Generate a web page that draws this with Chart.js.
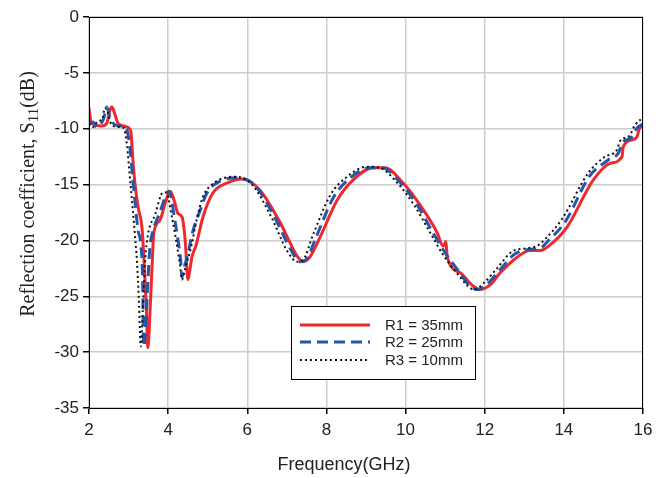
<!DOCTYPE html>
<html>
<head>
<meta charset="utf-8">
<script src="https://cdn.jsdelivr.net/npm/chart.js@4.4.1/dist/chart.umd.min.js"></script>
<style>
  html, body { margin: 0; padding: 0; background: #fff; }
  #wrap { width: 663px; height: 478px; }
</style>
</head>
<body>
<div id="wrap"><canvas id="S11Chart"></canvas></div>
<script>
// R1 = 35mm (red, solid)
var freqR1 = [2.00, 2.05, 2.15, 2.33, 2.45, 2.53, 2.58, 2.66, 2.73, 2.88, 3.01, 3.06, 3.11, 3.16, 3.24, 3.34, 3.39, 3.44, 3.49, 3.54, 3.59, 3.64, 3.79, 3.95, 4.05, 4.15, 4.25, 4.35, 4.43, 4.50, 4.55, 4.60, 4.70, 4.88, 5.13, 5.49, 5.87, 6.32, 6.83, 7.08, 7.26, 7.41, 7.58, 7.84, 8.27, 8.67, 9.18, 9.48, 9.94, 10.36, 10.79, 10.95, 11.02, 11.05, 11.38, 11.68, 11.88, 12.13, 12.39, 12.82, 13.14, 13.40, 13.65, 14.08, 14.74, 15.17, 15.47, 15.50, 15.73, 15.85, 15.93, 16.00];
var s11R1 = [-8.15, -9.4, -9.67, -9.76, -9.49, -8.33, -8.06, -8.77, -9.49, -9.76, -9.94, -10.3, -12.8, -14.86, -17.0, -18.9, -21.75, -25.3, -29.6, -26.5, -22.6, -19.3, -18.2, -16.4, -15.6, -16.4, -17.6, -17.9, -19.96, -23.5, -22.6, -21.5, -20.5, -17.9, -15.75, -14.86, -14.5, -15.5, -18.4, -20.2, -21.4, -21.9, -21.5, -19.7, -16.4, -14.6, -13.5, -13.5, -14.86, -16.8, -19.25, -20.5, -20.1, -21.4, -22.9, -24.0, -24.4, -24.0, -22.9, -21.5, -20.9, -20.9, -20.4, -18.8, -14.6, -13.1, -12.5, -11.6, -11.0, -10.7, -9.85, -9.85];

// R2 = 25mm (blue, dashed)
var freqR2 = [2.00, 2.10, 2.20, 2.30, 2.38, 2.45, 2.53, 2.63, 2.78, 2.94, 3.04, 3.11, 3.24, 3.31, 3.36, 3.37, 3.39, 3.44, 3.49, 3.54, 3.62, 3.79, 3.97, 4.02, 4.17, 4.25, 4.32, 4.35, 4.40, 4.48, 4.63, 4.81, 4.98, 5.31, 5.77, 6.20, 6.73, 7.08, 7.33, 7.48, 7.74, 8.17, 8.60, 9.10, 9.40, 9.86, 10.29, 10.69, 11.00, 11.33, 11.63, 11.81, 12.06, 12.39, 12.77, 13.14, 13.40, 13.60, 14.03, 14.66, 15.12, 15.39, 15.47, 15.70, 15.85, 16.00];
var s11R2 = [-9.67, -9.4, -9.85, -9.58, -9.0, -8.06, -9.0, -9.58, -9.76, -9.94, -11.9, -14.6, -19.1, -20.4, -24.4, -28.0, -29.5, -27.1, -23.5, -20.6, -19.1, -17.5, -15.75, -15.6, -18.2, -19.96, -21.9, -23.3, -22.5, -21.5, -19.1, -17.3, -15.75, -14.7, -14.4, -15.1, -18.2, -20.7, -21.9, -21.75, -19.7, -16.2, -14.4, -13.5, -13.5, -14.8, -16.8, -19.3, -21.1, -22.7, -24.1, -24.4, -23.9, -22.6, -21.2, -20.8, -20.7, -20.05, -18.35, -14.2, -12.8, -12.1, -11.3, -10.8, -9.94, -9.58];

// R3 = 10mm (black, dotted)
var freqR3 = [2.00, 2.10, 2.23, 2.33, 2.40, 2.48, 2.56, 2.73, 2.88, 2.96, 3.04, 3.16, 3.21, 3.26, 3.31, 3.36, 3.42, 3.49, 3.67, 3.87, 3.95, 4.10, 4.20, 4.30, 4.35, 4.43, 4.58, 4.73, 4.88, 5.18, 5.69, 6.12, 6.62, 7.00, 7.26, 7.41, 7.66, 8.09, 8.52, 9.03, 9.35, 9.78, 10.21, 10.62, 10.95, 11.27, 11.58, 11.73, 11.98, 12.31, 12.69, 13.07, 13.32, 13.52, 13.95, 14.61, 15.04, 15.34, 15.42, 15.65, 15.80, 16.00];
var s11R3 = [-9.5, -9.85, -9.3, -9.2, -8.15, -8.6, -9.58, -9.85, -9.94, -11.5, -14.6, -19.5, -21.75, -25.3, -29.5, -26.2, -21.75, -19.5, -17.7, -15.7, -15.7, -18.0, -19.96, -22.2, -23.5, -22.5, -20.6, -18.0, -16.1, -14.8, -14.3, -15.0, -18.0, -20.9, -21.9, -21.75, -19.5, -16.0, -14.3, -13.4, -13.5, -14.8, -16.8, -19.3, -21.3, -22.8, -24.1, -24.4, -23.8, -22.5, -21.0, -20.7, -20.5, -19.9, -18.1, -14.0, -12.5, -11.9, -11.1, -10.65, -9.67, -9.0];

var seriesNames = ['R1 = 35mm', 'R2 = 25mm', 'R3 = 10mm'];
var xTitle = 'Frequency(GHz)';

function toPoints(xs, ys) {
    return xs.map(function (x, i) { return { x: x, y: ys[i] }; });
}

// frame, axis titles and the boxed legend inside the plot
var extras = {
    id: 'extras',
    afterDatasetsDraw: function (chart) {
        var ctx = chart.ctx, a = chart.chartArea;
        ctx.save();
        ctx.strokeStyle = '#000';
        ctx.lineWidth = 1;
        ctx.strokeRect(a.left + 0.5, a.top + 0.5, a.right - a.left - 1, a.bottom - a.top);

        // legend box
        var lx = 291, ly = 306, lw = 184, lh = 73;
        ctx.fillStyle = '#fff';
        ctx.fillRect(lx, ly, lw, lh);
        ctx.strokeRect(lx + 0.5, ly + 0.5, lw, lh);
        var rows = [325, 342, 360];
        chart.data.datasets.forEach(function (ds, i) {
            ctx.beginPath();
            ctx.strokeStyle = ds.borderColor;
            ctx.lineWidth = ds.borderWidth;
            ctx.setLineDash(ds.borderDash || []);
            ctx.moveTo(300, rows[i]);
            ctx.lineTo(370, rows[i]);
            ctx.stroke();
            ctx.setLineDash([]);
            ctx.fillStyle = '#222';
            ctx.font = '15px "Liberation Sans", Arial, sans-serif';
            ctx.textBaseline = 'middle';
            ctx.textAlign = 'left';
            ctx.fillText(seriesNames[i], 385, rows[i] + 1);
        });

        // x title
        ctx.fillStyle = '#222';
        ctx.font = '18px "Liberation Sans", Arial, sans-serif';
        ctx.textAlign = 'center';
        ctx.textBaseline = 'middle';
        ctx.fillText(xTitle, 344, 465);

        // y title with subscript
        var big = '20px "Liberation Serif", "Times New Roman", serif';
        var small = '15px "Liberation Serif", "Times New Roman", serif';
        var p1 = 'Reflection coefficient, S', p2 = '11', p3 = '(dB)';
        ctx.font = big; var w1 = ctx.measureText(p1).width, w3 = ctx.measureText(p3).width;
        ctx.font = small; var w2 = ctx.measureText(p2).width;
        var total = w1 + w2 + w3;
        ctx.translate(27, 194);
        ctx.rotate(-Math.PI / 2);
        ctx.textAlign = 'left';
        ctx.textBaseline = 'alphabetic';
        var x0 = -total / 2;
        ctx.font = big; ctx.fillText(p1, x0, 7);
        ctx.font = small; ctx.fillText(p2, x0 + w1, 11);
        ctx.font = big; ctx.fillText(p3, x0 + w1 + w2, 7);
        ctx.restore();
    }
};

var ctx = document.getElementById('S11Chart');
var s11Chart = new Chart(ctx, {
    type: 'line',
    data: {
        datasets: [
            {
                label: seriesNames[0],
                data: toPoints(freqR1, s11R1),
                borderColor: 'rgb(238, 40, 44)',
                borderWidth: 3,
                order: 3
            },
            {
                label: seriesNames[1],
                data: toPoints(freqR2, s11R2),
                borderColor: 'rgb(38, 86, 168)',
                borderWidth: 3,
                borderDash: [11, 6],
                order: 2
            },
            {
                label: seriesNames[2],
                data: toPoints(freqR3, s11R3),
                borderColor: '#111',
                borderWidth: 2,
                borderDash: [2, 3],
                order: 1
            }
        ]
    },
    options: {
        responsive: true,
        maintainAspectRatio: false,
        animation: false,
        layout: { padding: { left: 0, top: 17, right: 20, bottom: 0 } },
        elements: {
            point: { radius: 0 },
            line: { cubicInterpolationMode: 'monotone', fill: false }
        },
        plugins: {
            legend: { display: false },
            tooltip: { enabled: false }
        },
        scales: {
            x: {
                type: 'linear',
                min: 2,
                max: 16,
                ticks: {
                    stepSize: 2,
                    color: '#222',
                    padding: 6,
                    font: { family: '"Liberation Sans", Arial, sans-serif', size: 17 }
                },
                grid: { color: 'rgb(205, 205, 205)', lineWidth: 1.5, tickColor: '#000', tickLength: 6 },
                border: { color: '#000', width: 1 },
                afterFit: function (scale) { scale.height = 70; }
            },
            y: {
                min: -35,
                max: 0,
                ticks: {
                    stepSize: 5,
                    color: '#222',
                    padding: 4,
                    font: { family: '"Liberation Sans", Arial, sans-serif', size: 17 }
                },
                grid: { color: 'rgb(205, 205, 205)', lineWidth: 1.5, tickColor: '#000', tickLength: 6 },
                border: { color: '#000', width: 1 },
                afterFit: function (scale) { scale.width = 89; }
            }
        }
    },
    plugins: [extras]
});
</script>
</body>
</html>
